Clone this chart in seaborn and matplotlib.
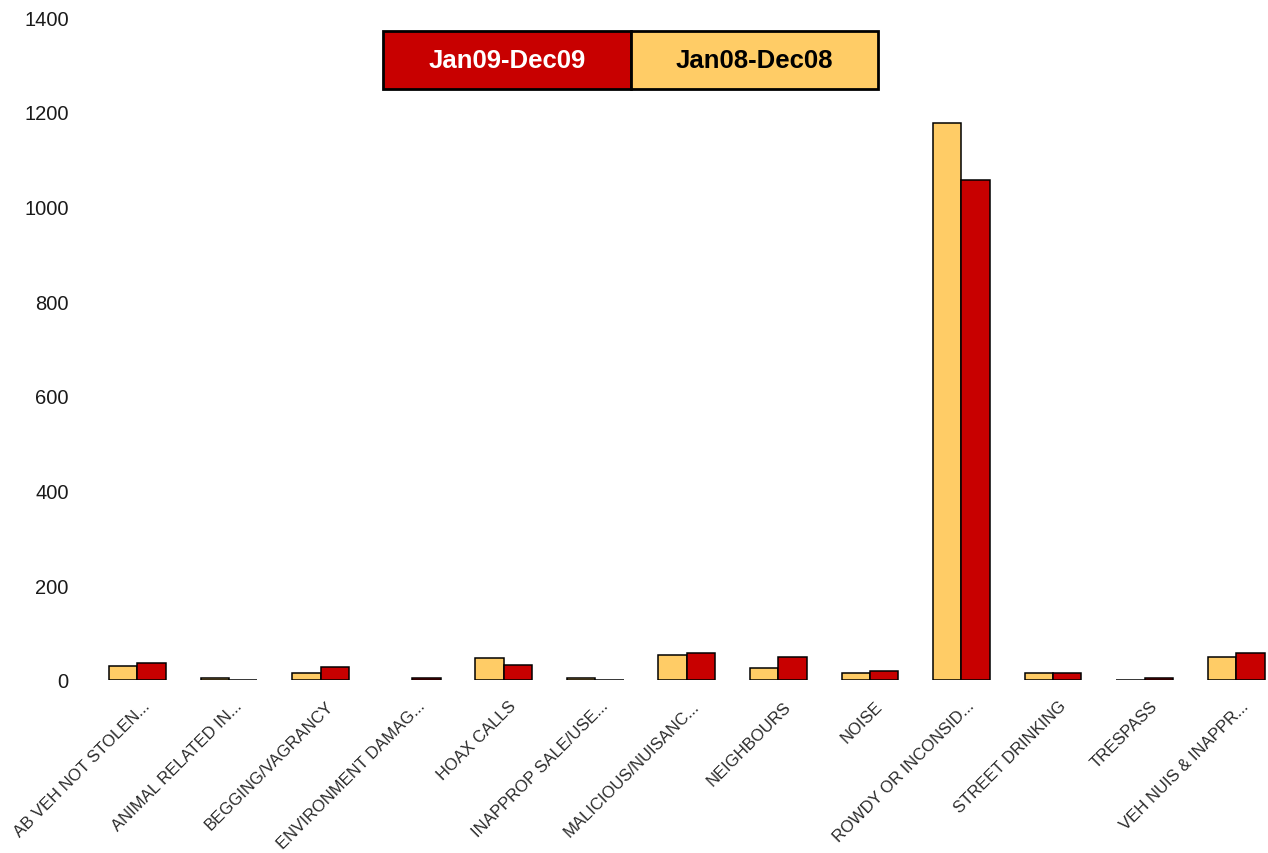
import numpy as np
import pandas as pd
import matplotlib
matplotlib.use("Agg")
from matplotlib import pyplot as plt
from matplotlib.patches import Rectangle
import matplotlib.transforms as mtransforms
import seaborn as sns

# ------------------------------------------------------------
# chart data
# ------------------------------------------------------------
categories = [
    "AB VEH NOT STOLEN...",
    "ANIMAL RELATED IN...",
    "BEGGING/VAGRANCY",
    "ENVIRONMENT DAMAG...",
    "HOAX CALLS",
    "INAPPROP SALE/USE...",
    "MALICIOUS/NUISANC...",
    "NEIGHBOURS",
    "NOISE",
    "ROWDY OR INCONSID...",
    "STREET DRINKING",
    "TRESPASS",
    "VEH NUIS & INAPPR...",
]
values_2008 = [30, 4, 15, np.nan, 47, 4, 53, 26, 15, 1177, 15, 1, 48]
values_2009 = [35, 1, 27, 4, 31, 1, 57, 48, 19, 1055, 14, 4, 56]
series_names = ["Jan08-Dec08", "Jan09-Dec09"]
y_ticks = [0, 200, 400, 600, 800, 1000, 1200, 1400]

YELLOW = "#FFCC66"
RED = "#C80000"

df = pd.DataFrame({
    "category": categories * 2,
    "period": [series_names[0]] * len(categories) + [series_names[1]] * len(categories),
    "value": values_2008 + values_2009,
})

sns.set_style("white")
plt.rcParams["font.family"] = ["Liberation Sans", "DejaVu Sans"]

W, H = 1268, 854
fig = plt.figure(figsize=(W / 100, H / 100), dpi=100)
# category spacing ~91.55 px, first centre at x=137.5
ax = fig.add_axes([91.7 / W, (H - 681) / H, 1190.2 / W, (681 - 18) / H])

sns.barplot(data=df, x="category", y="value", hue="period",
            hue_order=series_names, order=categories,
            palette={series_names[0]: YELLOW, series_names[1]: RED},
            saturation=1, width=0.62, edgecolor="black", linewidth=1.1,
            errorbar=None, legend=False, ax=ax)

ax.set_xlim(-0.5, len(categories) - 0.5)
ax.set_ylim(0, 1400)
ax.set_yticks(y_ticks)
ax.set_yticklabels([str(t) for t in y_ticks], fontsize=14.5, color="#1a1a1a")
ax.set_xlabel("")
ax.set_ylabel("")
for s in ax.spines.values():
    s.set_visible(False)
ax.tick_params(axis="both", length=0)
ax.tick_params(axis="y", pad=16.5)
ax.tick_params(axis="x", pad=13)

offset = mtransforms.ScaledTranslation(5 / 100, 0, fig.dpi_scale_trans)
for lbl in ax.get_xticklabels():
    lbl.set_rotation(45)
    lbl.set_ha("right")
    lbl.set_va("top")
    lbl.set_rotation_mode("anchor")
    lbl.set_fontsize(12)
    lbl.set_color("#2a2a2a")
    lbl.set_transform(lbl.get_transform() + offset)

# legend drawn as two bordered cells, like the original
def fx(px):
    return px / W

def fy(py):
    return (H - py) / H

cells = [(383, 631, RED, "white", series_names[1]),
         (631, 878, YELLOW, "black", series_names[0])]
top_px, bot_px = 32, 90
for x0, x1, fc, tc, label in cells:
    fig.add_artist(Rectangle((fx(x0), fy(bot_px)), fx(x1) - fx(x0), fy(top_px) - fy(bot_px),
                             transform=fig.transFigure, facecolor=fc,
                             edgecolor="black", linewidth=2.0))
    fig.text(fx((x0 + x1) / 2), fy((top_px + bot_px) / 2), label,
             ha="center", va="center", fontsize=18.5, fontweight="bold", color=tc)

fig.savefig("out.png", dpi=100)
plt.close(fig)
